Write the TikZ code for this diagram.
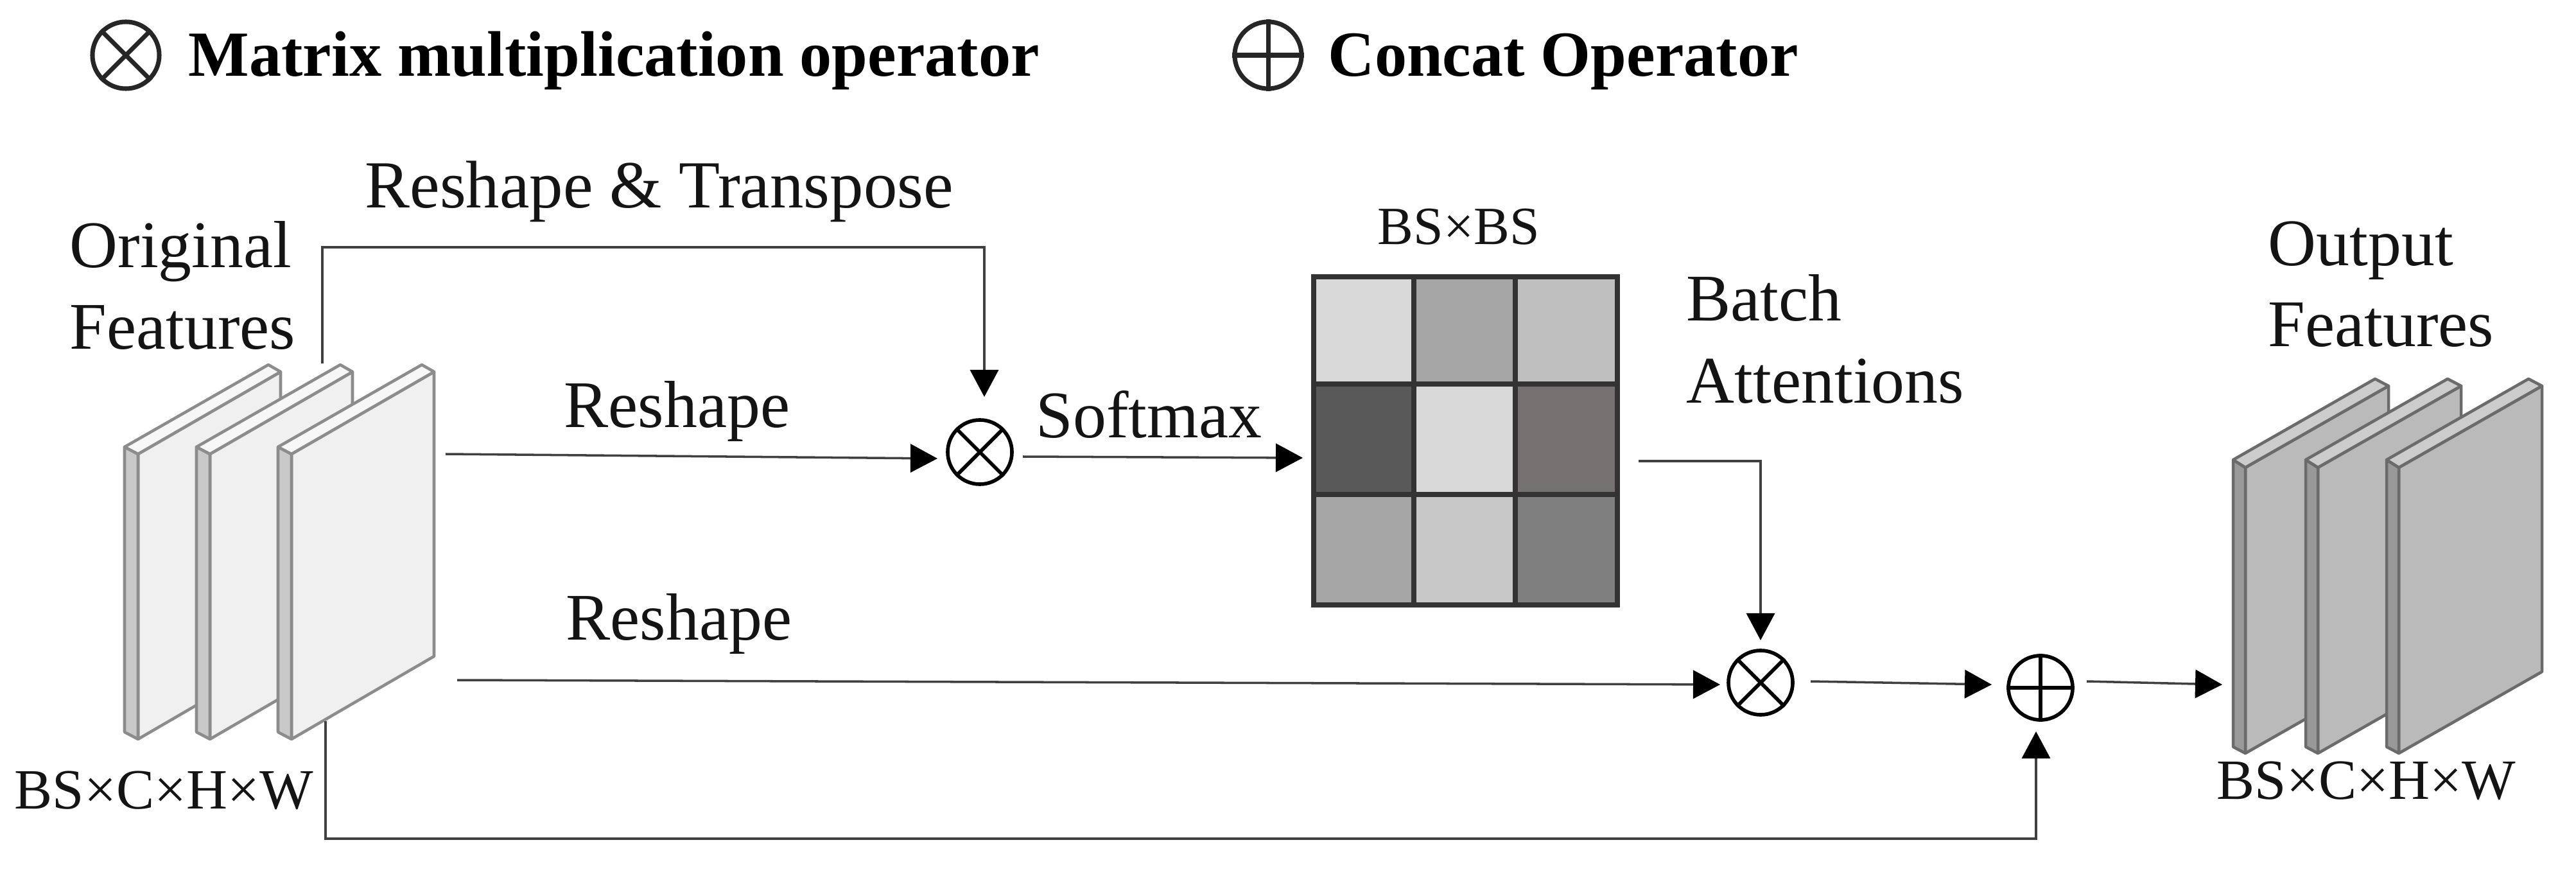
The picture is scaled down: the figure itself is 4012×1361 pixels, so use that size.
\documentclass[tikz,border=0pt]{standalone}
\usepackage{fontspec}
\setmainfont{Liberation Serif}
\usetikzlibrary{arrows.meta}
\tikzset{
  lbl/.style={anchor=base west,inner sep=0pt,font=\fontsize{29.5}{32}\selectfont,text=black!92},
  dim/.style={anchor=base west,inner sep=0pt,font=\fontsize{25.2}{28}\selectfont,text=black!92},
  legendtext/.style={anchor=base west,inner sep=0pt,font=\fontsize{28.5}{32}\selectfont\bfseries},
  opcircle/.style={circle,draw=black,line width=1.6pt,minimum size=1.0cm,inner sep=0pt},
  legcircle/.style={circle,draw=black!85,line width=2pt,minimum size=1.04cm,inner sep=0pt},
  opline/.style={draw=black,line width=1.6pt},
  legline/.style={draw=black!85,line width=2pt},
  conn/.style={draw=black!75,line width=1pt,-{Triangle[length=0.42cm,width=0.44cm,color=black]}},
  plateL/.style={draw=black!45,line width=1.3pt,line join=round},
  plateR/.style={draw=black!58,line width=1.3pt,line join=round},
  cellbox/.style={draw=black!80,line width=2.1pt},
}
\begin{document}
\begin{tikzpicture}[x=0.01cm,y=-0.01cm]
\useasboundingbox (0,0) rectangle (4012,1361);
% legend
\node[legcircle] (legmul) at (196,86) {};
\draw[legline] (legmul.45) -- (legmul.225) (legmul.135) -- (legmul.315);
\node[legendtext] (legmultext) at (293,119) {Matrix multiplication operator};
\node[legcircle] (legcat) at (1975,86) {};
\draw[legline] (legcat.north) -- (legcat.south) (legcat.west) -- (legcat.east);
\node[legendtext] (legcattext) at (2068,119) {Concat Operator};
% left plates
\foreach \d in {0,112,239}{
  \filldraw[plateL,fill=black!6] (215+\d,707) -- (437+\d,579) -- (437+\d,1022) -- (215+\d,1151) -- cycle;
  \filldraw[plateL,fill=black!21] (194+\d,696) -- (215+\d,707) -- (215+\d,1151) -- (194+\d,1140) -- cycle;
  \filldraw[plateL,fill=black!3] (194+\d,696) -- (418+\d,568) -- (437+\d,579) -- (215+\d,707) -- cycle;
}
% right plates
\foreach \d in {0,113,239}{
  \filldraw[plateR,fill=black!27] (3497+\d,728) -- (3720+\d,601) -- (3720+\d,1046) -- (3497+\d,1173) -- cycle;
  \filldraw[plateR,fill=black!40] (3478+\d,716) -- (3497+\d,728) -- (3497+\d,1173) -- (3478+\d,1163) -- cycle;
  \filldraw[plateR,fill=black!20] (3478+\d,716) -- (3699+\d,590) -- (3720+\d,601) -- (3497+\d,728) -- cycle;
}
% attention matrix
\definecolor{ca}{HTML}{D9D9D9}\definecolor{cb}{HTML}{A6A6A6}\definecolor{cc}{HTML}{BFBFBF}
\definecolor{cd}{HTML}{595959}\definecolor{ce}{HTML}{767171}\definecolor{cf}{HTML}{C8C8C8}\definecolor{cg}{HTML}{7F7F7F}
\fill[ca] (2046,431) rectangle (2202,598);
\fill[cb] (2202,431) rectangle (2360,598);
\fill[cc] (2360,431) rectangle (2519,598);
\fill[cd] (2046,598) rectangle (2202,770);
\fill[ca] (2202,598) rectangle (2360,770);
\fill[ce] (2360,598) rectangle (2519,770);
\fill[cb] (2046,770) rectangle (2202,942);
\fill[cf] (2202,770) rectangle (2360,942);
\fill[cg] (2360,770) rectangle (2519,942);
\draw[cellbox] (2046,431) rectangle (2519,942);
\draw[cellbox] (2202,431) -- (2202,942) (2360,431) -- (2360,942) (2046,598) -- (2519,598) (2046,770) -- (2519,770);
% operators
\node[opcircle] (mulA) at (1526,704) {};
\draw[opline] (mulA.45) -- (mulA.225) (mulA.135) -- (mulA.315);
\node[opcircle] (mulB) at (2742,1063) {};
\draw[opline] (mulB.45) -- (mulB.225) (mulB.135) -- (mulB.315);
\node[opcircle] (cat) at (3178,1071) {};
\draw[opline] (cat.north) -- (cat.south) (cat.west) -- (cat.east);
% connector ends
\coordinate (topS) at (502,566);
\coordinate (topA) at (502,385);
\coordinate (topB) at (1533,385);
\coordinate (topE) at (1533,618);
\coordinate (resAS) at (694,707);
\coordinate (resAE) at (1460,714);
\coordinate (softS) at (1593,711);
\coordinate (softE) at (2029,713);
\coordinate (resBS) at (712,1059);
\coordinate (resBE) at (2679,1066);
\coordinate (attS) at (2552,718);
\coordinate (attA) at (2742,718);
\coordinate (attE) at (2742,997);
\coordinate (mcS) at (2820,1061);
\coordinate (mcE) at (3102,1066);
\coordinate (coS) at (3250,1061);
\coordinate (coE) at (3461,1066);
\coordinate (botS) at (507,1123);
\coordinate (botA) at (507,1306);
\coordinate (botB) at (3171,1306);
\coordinate (botE) at (3171,1139);
\draw[conn] (topS) -- (topA) -- (topB) -- (topE);
\draw[conn] (resAS) -- (resAE);
\draw[conn] (softS) -- (softE);
\draw[conn] (resBS) -- (resBE);
\draw[conn] (attS) -- (attA) -- (attE);
\draw[conn] (mcS) -- (mcE);
\draw[conn] (coS) -- (coE);
\draw[conn] (botS) -- (botA) -- (botB) -- (botE);
% labels
\node[lbl,font=\fontsize{29.8}{32}\selectfont] (ltrans) at (568,324) {Reshape \& Transpose};
\node[lbl] (lorig) at (108,417) {Original};
\node[lbl] (lfeat) at (108,544) {Features};
\node[lbl] (lresA) at (878,665) {Reshape};
\node[lbl] (lresB) at (881,996) {Reshape};
\node[lbl] (lsoft) at (1613,681) {Softmax};
\node[dim,font=\fontsize{23.8}{26}\selectfont] (lbsbs) at (2145,381) {BS×BS};
\node[lbl] (lbatch) at (2626,500) {Batch};
\node[lbl] (latt) at (2626,627) {Attentions};
\node[lbl] (lout) at (3532,414) {Output};
\node[lbl] (lfeatb) at (3532,540) {Features};
\node[dim] (ldimA) at (22,1259) {BS×C×H×W};
\node[dim] (ldimB) at (3452,1244) {BS×C×H×W};
\end{tikzpicture}
\end{document}
